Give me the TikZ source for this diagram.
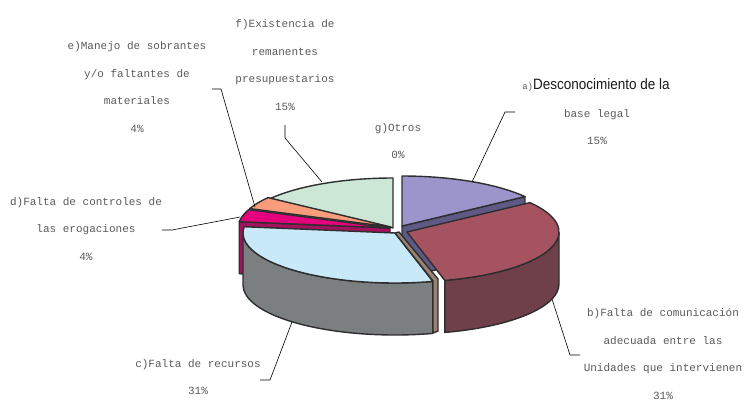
\documentclass[tikz,border=0pt]{standalone}
\usepackage{fontspec}
\setmainfont{Liberation Mono}
\newfontfamily\labsans{Liberation Sans}
\definecolor{cpurple}{HTML}{9B95CB}
\definecolor{cdkpurple}{HTML}{5F5985}
\definecolor{cred}{HTML}{A65361}
\definecolor{cdkred}{HTML}{6F3F4A}
\definecolor{clblue}{HTML}{C7E9F8}
\definecolor{cgray}{HTML}{7B7F7F}
\definecolor{cmag}{HTML}{E5007E}
\definecolor{cdkmag}{HTML}{A3125E}
\definecolor{csalmon}{HTML}{F89C7C}
\definecolor{clgreen}{HTML}{CCE7D5}
\definecolor{cbrown}{HTML}{9A8373}
\definecolor{coutl}{HTML}{2E2E2E}
\definecolor{ctxt}{HTML}{5A5A5A}
\definecolor{cdark}{HTML}{1A1A1A}
\def\RX{152}\def\RY{50}\def\HH{52}
\newcommand\slicetop[5]{\filldraw[pie,fill=#5] (#1,#2) -- ({#1+\RX*cos(#3)},{#2-\RY*sin(#3)}) arc[start angle={-(#3)}, end angle={-(#4)}, x radius=\RX, y radius=\RY] -- cycle;}
\newcommand\sliceside[5]{\filldraw[pie,fill=#5] ({#1+\RX*cos(#3)},{#2-\RY*sin(#3)}) arc[start angle={-(#3)}, end angle={-(#4)}, x radius=\RX, y radius=\RY] -- ++(0,\HH) arc[start angle={-(#4)}, end angle={-(#3)}, x radius=\RX, y radius=\RY] -- cycle;}
\newcommand\sliceface[4]{\filldraw[pie,fill=#4] (#1,#2) -- ({#1+\RX*cos(#3)},{#2-\RY*sin(#3)}) -- ++(0,\HH) -- (#1,{#2+\HH}) -- cycle;}
\begin{document}
\begin{tikzpicture}[x=1pt,y=-1pt,
  pie/.style={draw=coutl, line width=1.4pt, line join=round},
  lab/.style={align=center, text=ctxt, font=\fontsize{11}{27.7}\selectfont, inner sep=0pt},
  leader/.style={draw=black, line width=0.6pt}]
\useasboundingbox (0,0) rectangle (751,401);
% back cut faces
\sliceface{390}{228}{172.8}{cdkmag}
\sliceface{402}{226}{36}{cdkpurple}
% back tops
\slicetop{393}{228}{90}{144}{clgreen}
\slicetop{391}{227}{144}{158.4}{csalmon}
\slicetop{390}{228}{158.4}{172.8}{cmag}
\slicetop{402}{226}{36}{90}{cpurple}
% slice c
\sliceside{395}{233}{180}{284.4}{cgray}
\slicetop{395}{233}{172.8}{284.4}{clblue}
% slice g (brown sliver)
\filldraw[pie,fill=cbrown] (395,233) -- (399,232) -- (438,279) -- (438,331) -- (433,333) -- (433,281) -- cycle;
% slice b
\sliceside{407}{232}{284.4}{360}{cdkred}
\slicetop{407}{232}{-75.6}{36}{cred}
% labels
\node[lab] (labf) at (285,65) {f)Existencia de\\remanentes\\presupuestarios\\15\%};
\node[lab] (labe) at (137,87) {e)Manejo de sobrantes\\y/o faltantes de\\materiales\\4\%};
\node[lab] (labg) at (398,141) {g)Otros\\0\%};
\node[inner sep=0pt] (laba1) at (596,85) {{\color{ctxt}\fontsize{9}{11}\selectfont a)}{\labsans\color{cdark}\fontsize{15}{18}\selectfont\scalebox{0.9}[1]{Desconocimiento de la}}};
\node[lab] (laba2) at (597,127) {base legal\\15\%};
\node[lab] (labb) at (663,354) {b)Falta de comunicación\\adecuada entre las\\Unidades que intervienen\\31\%};
\node[lab] (labc) at (198,377) {c)Falta de recursos\\31\%};
\node[lab] (labd) at (86,229) {d)Falta de controles de\\las erogaciones\\4\%};
% leader lines
\coordinate (a0) at (515,112); \coordinate (a1) at (505,112); \coordinate (a2) at (472,182);
\coordinate (b0) at (580,355); \coordinate (b1) at (570,355); \coordinate (b2) at (552,299);
\coordinate (c0) at (260,380); \coordinate (c1) at (270,380); \coordinate (c2) at (292,322);
\coordinate (d0) at (162,230); \coordinate (d1) at (172,230); \coordinate (d2) at (240,217);
\coordinate (e0) at (212,89); \coordinate (e1) at (221,89); \coordinate (e2) at (255,207);
\coordinate (f0) at (285,125); \coordinate (f1) at (285,138); \coordinate (f2) at (322,182);
\draw[leader] (a0) -- (a1) -- (a2);
\draw[leader] (b0) -- (b1) -- (b2);
\draw[leader] (c0) -- (c1) -- (c2);
\draw[leader] (d0) -- (d1) -- (d2);
\draw[leader] (e0) -- (e1) -- (e2);
\draw[leader] (f0) -- (f1) -- (f2);
\end{tikzpicture}
\end{document}
